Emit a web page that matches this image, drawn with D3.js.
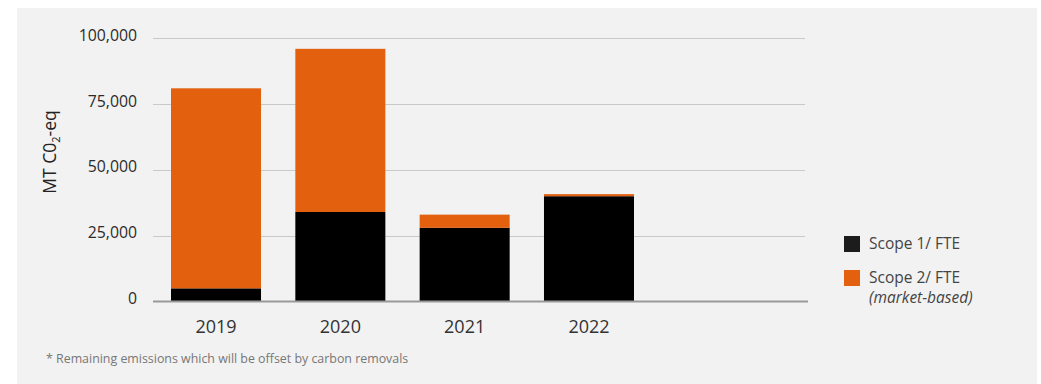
<!DOCTYPE html>
<html>
<head>
<meta charset="utf-8">
<script src="https://cdn.jsdelivr.net/npm/d3@7"></script>
<style>
  html, body { margin: 0; padding: 0; background: #ffffff; }
  svg { display: block; font-family: "Open Sans", "Noto Sans", sans-serif; }
</style>
</head>
<body>
<svg id="chart" width="1041" height="384"></svg>
<script>
// Emissions per FTE, MT CO2-eq
const years = ["2019", "2020", "2021", "2022"];
const scope1 = [5000, 34000, 28000, 40000];
const scope2 = [76000, 62000, 5000, 800];
const yTicks = [0, 25000, 50000, 75000, 100000];
const seriesNames = ["Scope 1/ FTE", "Scope 2/ FTE"];
const seriesColors = ["#000000", "#e3600f"];
const legendSwatch = ["#1c1c1c", "#e3600f"];

const svg = d3.select("#chart");

// panel background
svg.append("rect")
  .attr("x", 17).attr("y", 8)
  .attr("width", 1020).attr("height", 376)
  .attr("fill", "#f2f2f2");

const plotLeft = 153, plotRight = 807;

const x = d3.scaleBand()
  .domain(years)
  .range([153.85, 651.15])
  .paddingInner(0.276)
  .paddingOuter(0.138);

const y = d3.scaleLinear()
  .domain([0, 100000])
  .range([301.5, 38.3]);

// gridlines
svg.append("g")
  .selectAll("line")
  .data(yTicks.filter(d => d > 0))
  .join("line")
  .attr("x1", plotLeft).attr("x2", plotRight - 2)
  .attr("y1", d => Math.round(y(d)) + 0.5)
  .attr("y2", d => Math.round(y(d)) + 0.5)
  .attr("stroke", "#c9c9c9")
  .attr("stroke-width", 1);

// y tick labels
const fmt = d3.format(",");
svg.append("g")
  .selectAll("text")
  .data(yTicks)
  .join("text")
  .attr("x", 137)
  .attr("y", d => y(d) - 3)
  .attr("dy", "0.35em")
  .attr("text-anchor", "end")
  .attr("font-size", 15.8)
  .attr("fill", "#2b2b2b")
  .text(d => fmt(d));

// stacked bars
const rows = years.map((yr, i) => ({ year: yr, s1: scope1[i], s2: scope2[i] }));
const stacked = d3.stack().keys(["s1", "s2"])(rows);

svg.append("g")
  .selectAll("g")
  .data(stacked)
  .join("g")
  .attr("fill", (d, i) => seriesColors[i])
  .selectAll("rect")
  .data(d => d)
  .join("rect")
  .attr("x", d => x(d.data.year))
  .attr("width", x.bandwidth())
  .attr("y", d => y(d[1]))
  .attr("height", d => y(d[0]) - y(d[1]));

// baseline
svg.append("line")
  .attr("x1", plotLeft).attr("x2", plotRight + 1)
  .attr("y1", y(0)).attr("y2", y(0))
  .attr("stroke", "#999999")
  .attr("stroke-width", 2);

// x labels
svg.append("g")
  .selectAll("text")
  .data(years)
  .join("text")
  .attr("x", d => x(d) + x.bandwidth() / 2)
  .attr("y", 327)
  .attr("dy", "0.35em")
  .attr("text-anchor", "middle")
  .attr("font-size", 18)
  .attr("fill", "#333333")
  .text(d => d);

// y axis title
const yt = svg.append("text")
  .attr("transform", "translate(56,152) rotate(-90)")
  .attr("text-anchor", "middle")
  .attr("font-size", 17.5)
  .attr("fill", "#222222");
yt.append("tspan").text("MT C0");
yt.append("tspan").attr("font-size", 11).attr("dy", 4).text("2");
yt.append("tspan").attr("dy", -4).text("-eq");

// legend
const legend = svg.append("g");
const legendY = [236, 270];
legend.selectAll("rect")
  .data(seriesNames)
  .join("rect")
  .attr("x", 844)
  .attr("y", (d, i) => legendY[i])
  .attr("width", 16).attr("height", 16)
  .attr("fill", (d, i) => legendSwatch[i]);
legend.selectAll("text.name")
  .data(seriesNames)
  .join("text")
  .attr("class", "name")
  .attr("x", 869)
  .attr("y", (d, i) => legendY[i] + 8)
  .attr("dy", "0.35em")
  .attr("font-size", 15.5)
  .attr("fill", "#444444")
  .text(d => d);
legend.append("text")
  .attr("x", 869)
  .attr("y", 298)
  .attr("dy", "0.35em")
  .attr("font-size", 15.5)
  .attr("font-style", "italic")
  .attr("fill", "#444444")
  .text("(market-based)");

// footnote
svg.append("text")
  .attr("x", 46)
  .attr("y", 359)
  .attr("dy", "0.35em")
  .attr("font-size", 12.4)
  .attr("fill", "#777777")
  .text("* Remaining emissions which will be offset by carbon removals");
</script>
</body>
</html>
